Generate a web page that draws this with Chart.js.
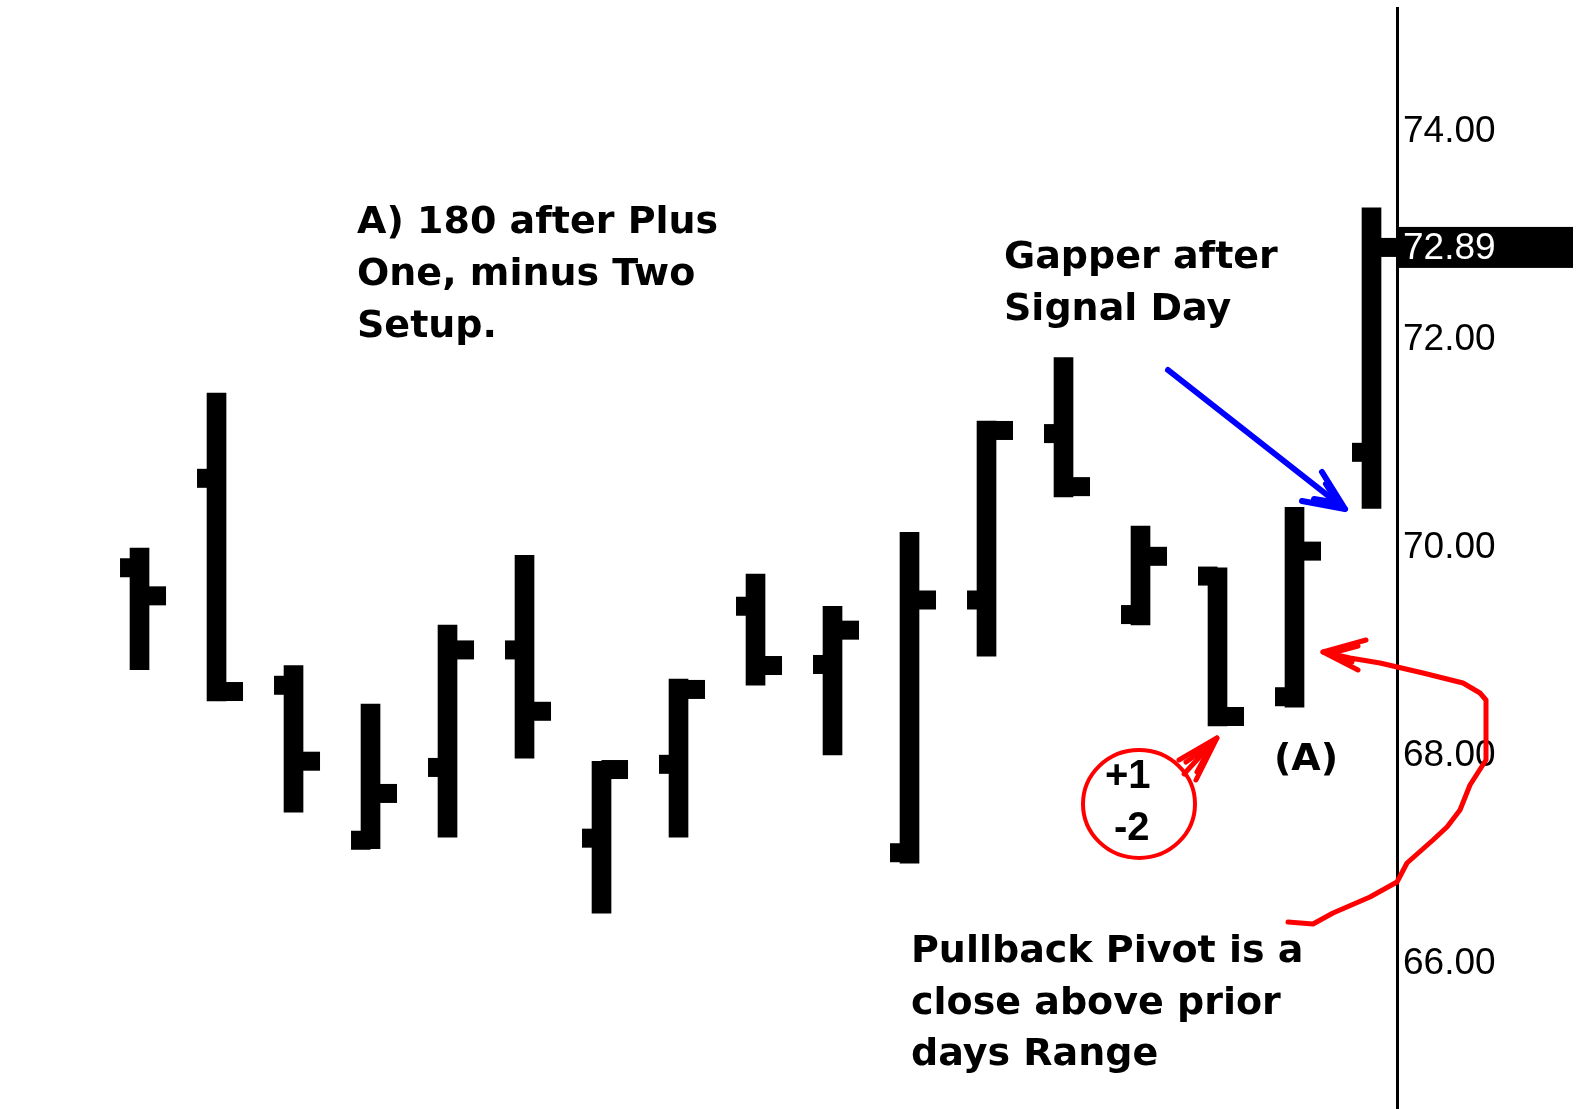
<!DOCTYPE html>
<html>
<head>
<meta charset="utf-8">
<script src="https://cdn.jsdelivr.net/npm/chart.js@4.4.1/dist/chart.umd.min.js"></script>
<style>
  html, body { margin: 0; padding: 0; background: #fff; }
  #wrap { width: 1576px; height: 1109px; }
</style>
</head>
<body>
<div id="wrap"><canvas id="ohlcChart"></canvas></div>
<script>
// daily bars, values
const days   = [1, 2, 3, 4, 5, 6, 7, 8, 9, 10, 11, 12, 13, 14, 15, 16, 17];
const highs  = [70.00, 71.49, 68.87, 68.50, 69.26, 69.93, 67.95, 68.74, 69.75, 69.44, 70.15, 71.22, 71.83, 70.21, 69.81, 70.39, 73.27];
const lows   = [68.83, 68.53, 67.46, 67.11, 67.22, 67.98, 66.49, 67.22, 68.68, 68.01, 66.97, 68.96, 70.49, 69.26, 68.29, 68.47, 70.38];
const opens  = [69.81, 70.67, 68.68, 67.19, 67.89, 69.02, 67.21, 67.92, 69.44, 68.88, 67.07, 69.50, 71.10, 69.36, 69.73, 68.57, 70.92];
const closes = [69.54, 68.62, 67.95, 67.64, 69.02, 68.43, 67.87, 68.64, 68.87, 69.21, 69.50, 71.13, 70.59, 69.92, 68.38, 69.97, 72.89];

// price axis
const priceTicks = [66, 68, 70, 72, 74];
const lastPrice = 72.89;

const labelFont = '37px "Liberation Sans", Arial, sans-serif';
const noteFont = 'bold 38px "DejaVu Sans", Verdana, sans-serif';

// open tick on the left, close tick on the right of each bar
const ohlcTicks = {
  id: 'ohlcTicks',
  afterDatasetsDraw(chart) {
    const { ctx, scales: { x, y } } = chart;
    ctx.save();
    ctx.fillStyle = '#000';
    days.forEach((d, i) => {
      const px = x.getPixelForValue(d);
      const yo = y.getPixelForValue(opens[i]);
      const yc = y.getPixelForValue(closes[i]);
      ctx.fillRect(px - 19.5, yo - 9.5, 19.5, 19);
      ctx.fillRect(px, yc - 9.5, 26.5, 19);
    });
    ctx.restore();
  }
};

function line(ctx, pts) {
  ctx.beginPath();
  ctx.moveTo(pts[0][0], pts[0][1]);
  for (let k = 1; k < pts.length; k++) ctx.lineTo(pts[k][0], pts[k][1]);
  ctx.stroke();
}

// last price box + hand drawn notes
const notes = {
  id: 'notes',
  afterDraw(chart) {
    const { ctx, scales: { y } } = chart;
    ctx.save();

    // last price marker on the axis
    const yl = y.getPixelForValue(lastPrice);
    ctx.fillStyle = '#000';
    ctx.fillRect(y.left, yl - 20.5, 176, 41);
    ctx.fillStyle = '#fff';
    ctx.font = labelFont;
    ctx.textBaseline = 'middle';
    ctx.textAlign = 'left';
    ctx.fillText(lastPrice.toFixed(2), y.left + 6, yl + 1);

    // texts
    ctx.fillStyle = '#000';
    ctx.font = noteFont;
    ctx.textBaseline = 'alphabetic';
    ctx.fillText('A) 180 after Plus', 357, 233);
    ctx.fillText('One, minus Two', 357, 285);
    ctx.fillText('Setup.', 357, 337);

    ctx.fillText('Gapper after', 1004, 268);
    ctx.fillText('Signal Day', 1004, 320);

    ctx.fillText('Pullback Pivot is a', 911, 962);
    ctx.fillText('close above prior', 911, 1014);
    ctx.fillText('days Range', 911, 1065);

    ctx.fillText('(A)', 1274, 770);

    ctx.font = 'bold 40px "Liberation Sans", Arial, sans-serif';
    ctx.fillText('+1', 1105, 788);
    ctx.fillText('-2', 1114, 840);

    // red circle round +1 / -2
    ctx.strokeStyle = '#ff0000';
    ctx.lineWidth = 4;
    ctx.beginPath();
    ctx.ellipse(1139, 804, 56, 54, 0, 0, Math.PI * 2);
    ctx.stroke();

    ctx.lineCap = 'round';
    ctx.lineJoin = 'round';

    // small red arrow to bar 15
    ctx.lineWidth = 5;
    line(ctx, [[1184, 774], [1217, 738]]);
    line(ctx, [[1179, 760], [1217, 738], [1196, 780]]);
    line(ctx, [[1186, 762], [1212, 744], [1197, 772]]);

    // red curve from the text to bar 16
    line(ctx, [[1288, 922], [1313, 924], [1333, 913], [1370, 897], [1397, 882],
      [1407, 863], [1433, 840], [1447, 827], [1460, 810], [1470, 785], [1486, 760],
      [1486, 700], [1480, 693], [1463, 683], [1423, 673], [1380, 663], [1350, 658], [1323, 652]]);
    line(ctx, [[1366, 640], [1323, 652], [1358, 670]]);
    line(ctx, [[1358, 646], [1332, 653], [1352, 662]]);

    // blue arrow
    ctx.strokeStyle = '#0000ff';
    ctx.lineWidth = 6;
    line(ctx, [[1168, 370], [1345, 509]]);
    line(ctx, [[1322, 472], [1345, 509], [1302, 501]]);
    line(ctx, [[1326, 484], [1338, 503], [1314, 499]]);

    ctx.restore();
  }
};

const ctx = document.getElementById('ohlcChart').getContext('2d');
new Chart(ctx, {
  type: 'bar',
  data: {
    datasets: [{
      data: days.map((d, i) => ({ x: d, y: [lows[i], highs[i]] })),
      backgroundColor: '#000',
      barThickness: 19,
      borderWidth: 0,
      borderSkipped: false
    }]
  },
  options: {
    responsive: true,
    maintainAspectRatio: false,
    animation: false,
    layout: { padding: { top: 8, left: 0, right: 0, bottom: 0 } },
    plugins: {
      legend: { display: false },
      tooltip: { enabled: false }
    },
    scales: {
      x: {
        type: 'linear',
        offset: false,
        min: -0.812,
        max: 17.331,
        display: false,
        grid: { offset: false }
      },
      y: {
        position: 'right',
        min: 64.606,
        max: 75.192,
        afterBuildTicks: (scale) => { scale.ticks = priceTicks.map(v => ({ value: v })); },
        afterFit: (scale) => {
          scale.width = 179;
          scale.paddingTop = 0;
          scale.paddingBottom = 0;
        },
        grid: { display: false, drawTicks: false },
        border: { display: true, color: '#000', width: 3 },
        ticks: {
          color: '#000',
          padding: 6,
          font: { family: '"Liberation Sans", Arial, sans-serif', size: 37 },
          callback: (v) => Number(v).toFixed(2)
        }
      }
    }
  },
  plugins: [ohlcTicks, notes]
});
</script>
</body>
</html>
